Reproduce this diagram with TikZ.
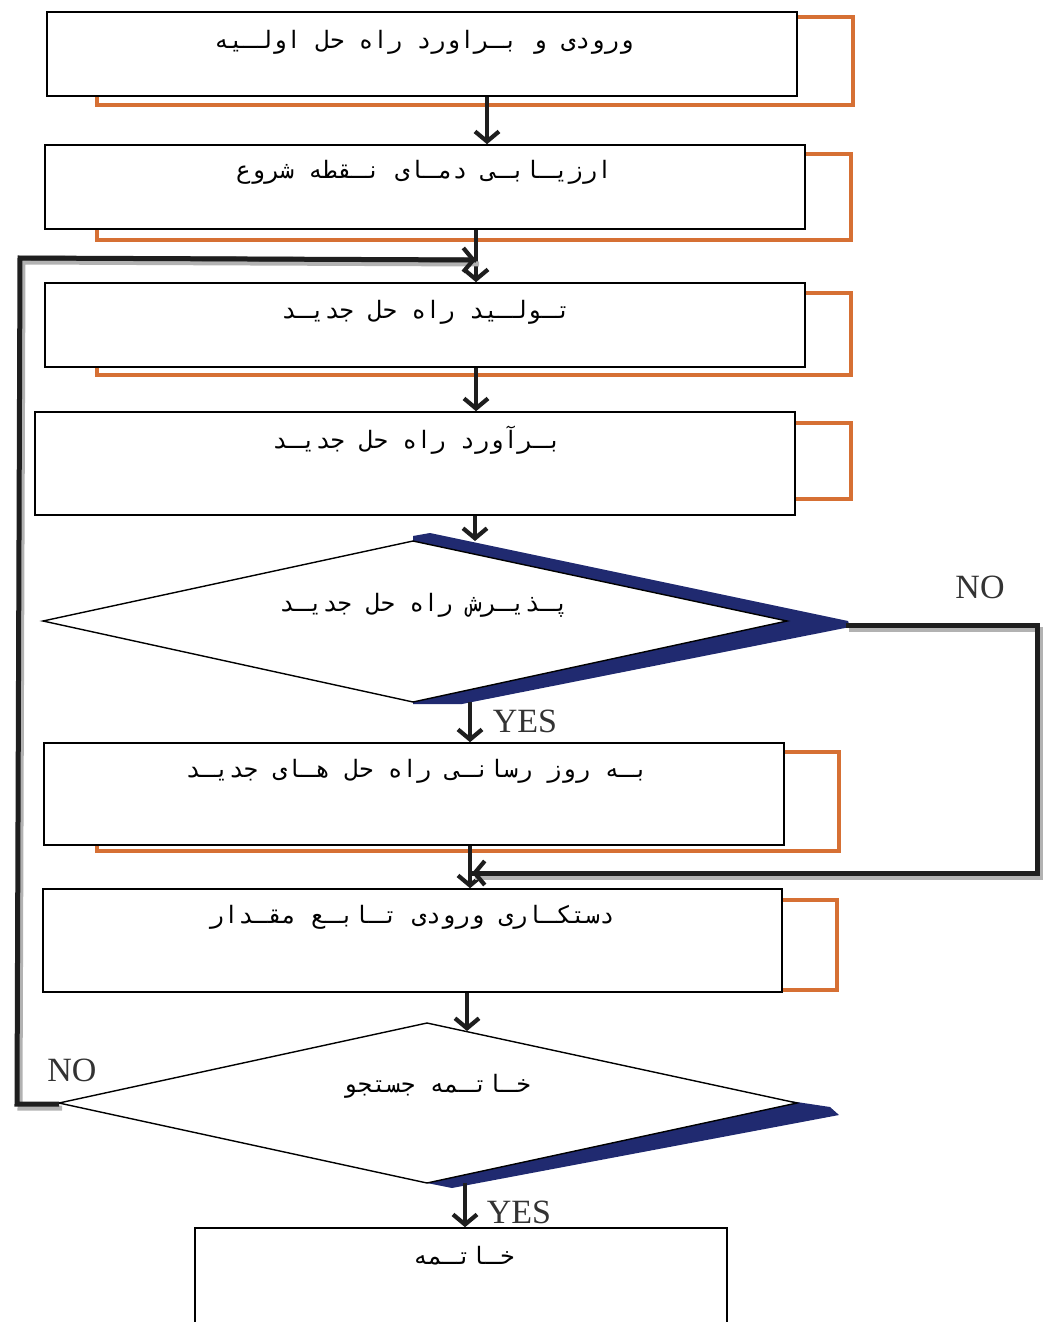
\documentclass[tikz,border=0pt]{standalone}
\usepackage{fontspec}
\setmainfont{Liberation Serif}
\newfontfamily\arabicfont[Script=Arabic]{DejaVu Sans Mono}
\TeXXeTstate=1
\usetikzlibrary{arrows.meta}
\definecolor{orng}{RGB}{214,112,52}
\definecolor{navy}{RGB}{32,42,112}
\definecolor{dk}{RGB}{30,30,30}
\tikzset{
  box/.style={draw=black,line width=1.6pt,fill=white,inner sep=0pt},
  frame/.style={draw=orng,line width=3.2pt},
  txt/.style={font=\arabicfont\fontsize{24}{28}\selectfont,inner sep=0pt},
  yn/.style={font=\fontsize{34}{38}\selectfont,text=black!80,inner sep=0pt},
  arr/.style={draw=dk,line width=4.4pt,-{Straight Barb[length=10pt,width=24pt,line width=4.2pt]}},
  loop/.style={draw=dk,line width=5pt,line join=miter},
  loopshadow/.style={draw=black!30,line width=5pt,line join=miter},
  dia/.style={draw=black,line width=1.4pt,fill=white},
  shade/.style={fill=navy,draw=none}
}
\begin{document}
\begin{tikzpicture}[x=1pt,y=-1pt]
\useasboundingbox (0,0) rectangle (1043,1322);
\clip (0,0) rectangle (1043,1322);
% orange frames
\draw[frame] (97,17) rectangle (853,105);
\draw[frame] (97,154) rectangle (851,240);
\draw[frame] (97,293) rectangle (851,375);
\draw[frame] (97,423) rectangle (851,499);
\draw[frame] (97,752) rectangle (839,851);
\draw[frame] (97,900) rectangle (837,990);
% boxes
\node[box,minimum width=750pt,minimum height=84pt] (b1) at (422,54) {};
\node[box,minimum width=760pt,minimum height=84pt] (b2) at (425,187) {};
\node[box,minimum width=760pt,minimum height=84pt] (b3) at (425,325) {};
\node[box,minimum width=760pt,minimum height=103pt] (b4) at (415,463.5) {};
\node[box,minimum width=740pt,minimum height=102pt] (b6) at (414,794) {};
\node[box,minimum width=739pt,minimum height=103pt] (b7) at (412.5,940.5) {};
\node[box,minimum width=532pt,minimum height=110pt] (b8) at (461,1283) {};
% diamond 1 with navy shadow
\fill[shade] (413,536) -- (430,533) -- (848,621) -- (850,627) -- (462,704) -- (413,704) -- cycle;
\draw[dia] (413,541) -- (787,621) -- (413,702) -- (43,621) -- cycle;
\coordinate (d1t) at (475,541);
\coordinate (d1b) at (470,702);
\coordinate (d1r) at (846,625);
% diamond 2 with navy shadow
\fill[shade] (790,1101) -- (830,1107) -- (839,1115) -- (452,1188) -- (427,1183) -- cycle;
\draw[dia] (427,1023) -- (797,1103) -- (427,1183) -- (59,1103) -- cycle;
\coordinate (d2t) at (467,1031);
\coordinate (d2b) at (465,1183);
\coordinate (d2l) at (59,1104);
% texts
\node[txt] (t1) at (424,42) {\beginR ورودی و بـراورد راه حل اولـیه\endR};
\node[txt] (t2) at (424,172) {\beginR ارزیـابـی دمـای نـقطه شروع\endR};
\node[txt] (t3) at (426,312) {\beginR تـولـید راه حل جدیـد\endR};
\node[txt] (t4) at (417,440) {\beginR بـرآورد راه حل جدیـد\endR};
\node[txt] (t5) at (424,605) {\beginR پـذیـرش راه حل جدیـد\endR};
\node[txt] (t6) at (417,771) {\beginR بـه روز رسانـی راه حل هـای جدیـد\endR};
\node[txt] (t7) at (412,917) {\beginR دستکـاری ورودی تـابـع مقـدار\endR};
\node[txt] (t8) at (437,1086) {\beginR خـاتـمه جستجو\endR};
\node[txt] (t9) at (464,1256) {\beginR خـاتـمه\endR};
% yes / no labels
\node[yn] (no1) at (980,587) {NO};
\node[yn] (yes1) at (525,721) {YES};
\node[yn] (no2) at (72,1070) {NO};
\node[yn] (yes2) at (519,1212) {YES};
% straight arrows
\draw[arr] (b1.south -| 487,0) -- (b2.north -| 487,0);
\draw[arr] (b2.south -| 476,0) -- (b3.north -| 476,0);
\draw[arr] (b3.south -| 476,0) -- (b4.north -| 476,0);
\draw[arr] (b4.south -| 475,0) -- (d1t);
\draw[arr] (d1b) -- (b6.north -| 470,0);
\draw[arr] (b6.south -| 470,0) -- (b7.north -| 470,0);
\draw[arr] (b7.south -| 467,0) -- (d2t);
\draw[arr] (d2b) -- (b8.north -| 465,0);
% loops
\coordinate (nr1) at (1037,625);
\coordinate (nr2) at (1037,873);
\coordinate (nj) at (472,873);
\draw[loopshadow] ([shift={(3,4)}]d1r) -- ([shift={(3,4)}]nr1) -- ([shift={(3,4)}]nr2) -- ([shift={(3,4)}]nj);
\draw[loop] (d1r) -- (nr1) -- (nr2) -- (nj);
\draw[arr] (nr2) -- (nj);
\coordinate (nl1) at (17,1104);
\coordinate (nl2) at (20,258);
\coordinate (nj2) at (476,260);
\draw[loopshadow] ([shift={(3,4)}]d2l) -- ([shift={(3,4)}]nl1) -- ([shift={(3,4)}]nl2) -- ([shift={(3,4)}]nj2);
\draw[loop] (d2l) -- (nl1) -- (nl2) -- (nj2);
\draw[arr] (nl2) -- (nj2);
\end{tikzpicture}
\end{document}
